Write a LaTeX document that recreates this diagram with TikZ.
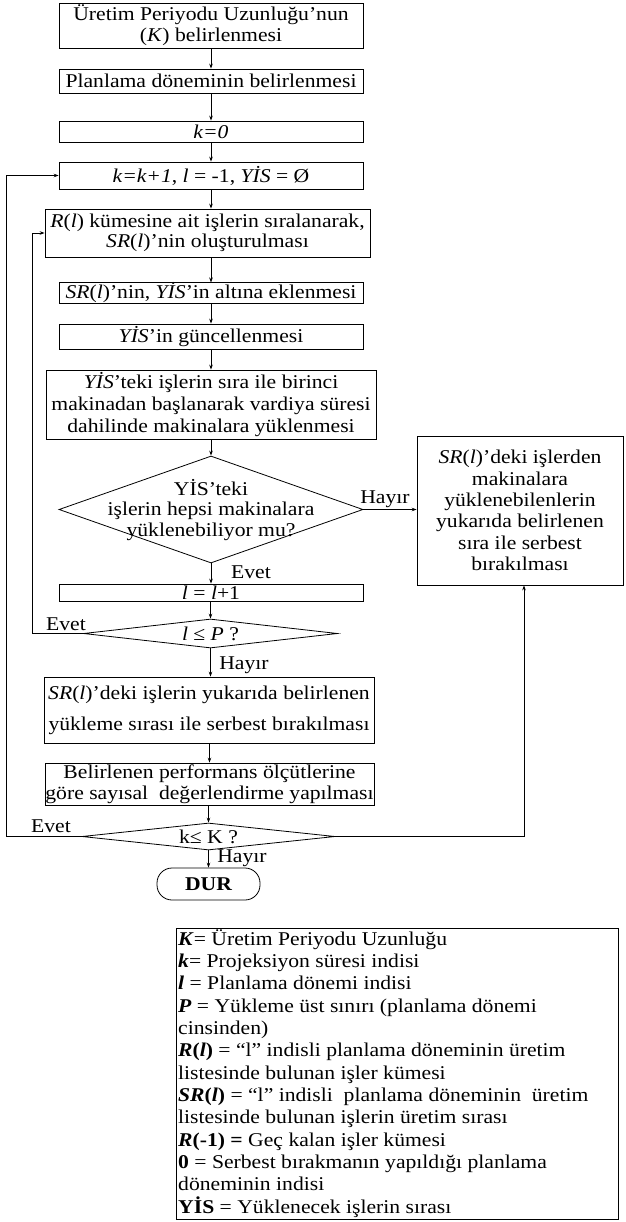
\documentclass[tikz,border=0pt]{standalone}
\usepackage{fontspec}
\setmainfont{Liberation Serif}[FakeStretch=1.11]
\usetikzlibrary{arrows.meta,shapes.geometric}
\newcommand{\fs}[1]{\fontsize{19.5}{#1}\selectfont}
\begin{document}
\begin{tikzpicture}[x=1pt,y=-1pt,
  every node/.style={font=\fs{21}},
  box/.style={draw, rectangle, line width=0.8pt, inner sep=0pt, align=center},
  dia/.style={draw, diamond, line width=0.8pt, inner sep=0pt},
  arr/.style={line width=0.8pt, -{Stealth[length=5pt,width=3.6pt]}},
  lbl/.style={inner sep=0pt, align=center},
  leg/.style={inner sep=0pt, anchor=base west}
]
\path[use as bounding box] (0,0) rectangle (625,1222);

% main column
\node[box, minimum width=304pt, minimum height=45pt] (b1) at (211,25.5) {Üretim Periyodu Uzunluğu’nun\\(\textit{K}) belirlenmesi};
\node[box, minimum width=304pt, minimum height=24pt] (b2) at (211,81) {Planlama döneminin belirlenmesi};
\node[box, minimum width=304pt, minimum height=21pt] (b3) at (211,131.5) {\textit{k=0}};
\node[box, minimum width=304pt, minimum height=27pt] (b4) at (211,175.5) {\textit{k=k+1}, \textit{l} = -1, \textit{YİS} = Ø};
\node[box, minimum width=325pt, minimum height=48pt, font=\fs{20}] (b5) at (207.5,233) {\textit{R}(\textit{l}) kümesine ait işlerin sıralanarak,\\\textit{SR}(\textit{l})’nin oluşturulması};
\node[box, minimum width=304pt, minimum height=20pt] (b6) at (211,293) {\textit{SR}(\textit{l})’nin, \textit{YİS}’in altına eklenmesi};
\node[box, minimum width=304pt, minimum height=25pt] (b7) at (211,336.5) {\textit{YİS}’in güncellenmesi};
\node[box, minimum width=330pt, minimum height=69pt, font=\fs{22}] (b8) at (211,404.5) {\textit{YİS}’teki işlerin sıra ile birinci\\makinadan başlanarak vardiya süresi\\dahilinde makinalara yüklenmesi};

\node[dia, minimum width=304pt, minimum height=107pt] (d1) at (211,509.5) {};
\node[lbl, font=\fs{20.5}] (d1t) at (211,510) {YİS’teki\\işlerin hepsi makinalara\\yüklenebiliyor mu?};

\node[box, minimum width=206pt, minimum height=149pt, font=\fs{21.3}] (rb) at (520,510.5) {\textit{SR}(\textit{l})’deki işlerden\\makinalara\\yüklenebilenlerin\\yukarıda belirlenen\\sıra ile serbest\\bırakılması};

\node[box, minimum width=304pt, minimum height=17pt] (b11) at (211,592.5) {\textit{l} = \textit{l}+1};

\node[dia, minimum width=254pt, minimum height=29pt] (d2) at (210.5,633.5) {};
\node[lbl] (d2t) at (210.5,634) {\textit{l} ≤ \textit{P} ?};

\node[box, minimum width=330pt, minimum height=66pt, font=\fs{31}] (b9) at (209,710) {\textit{SR}(\textit{l})’deki işlerin yukarıda belirlenen\\yükleme sırası ile serbest bırakılması};
\node[box, minimum width=329pt, minimum height=42pt, font=\fs{21.5}] (b10) at (209.5,784) {Belirlenen performans ölçütlerine\\göre sayısal\ \ değerlendirme yapılması};

\node[dia, minimum width=253pt, minimum height=27pt] (d3) at (208.5,836.5) {};
\node[lbl] (d3t) at (208.5,837) {k≤ K ?};

\node[draw, rounded corners=15pt, line width=0.8pt, inner sep=0pt, minimum width=103pt, minimum height=32pt, font=\fs{21}\bfseries] (dur) at (208.5,884) {DUR};

% labels
\node[lbl] (l1) at (385,499) {Hayır};
\node[lbl] (l2) at (251,572) {Evet};
\node[lbl] (l3) at (66,624) {Evet};
\node[lbl] (l4) at (244,665) {Hayır};
\node[lbl] (l5) at (51,826) {Evet};
\node[lbl] (l6) at (242,858) {Hayır};

% connectors
\draw[arr] (b1) -- (b2);
\draw[arr] (b2) -- (b3);
\draw[arr] (b3) -- (b4);
\draw[arr] (b4.south) -- (b4.south |- b5.north);
\draw[arr] (b6.north |- b5.south) -- (b6.north);
\draw[arr] (b6) -- (b7);
\draw[arr] (b7) -- (b8);
\draw[arr] (b8.south) -- (d1.north);
\draw[arr] (d1.south) -- (b11.north);
\draw[arr] (d2.north |- b11.south) -- (d2.north);
\draw[arr] (d2.south) -- (d2.south |- b9.north);
\draw[arr] (b10.north |- b9.south) -- (b10.north);
\draw[arr] (d3.north |- b10.south) -- (d3.north);
\draw[arr] (d3.south) -- (dur.north);
\draw[arr] (d1.east) -- (d1.east -| rb.west);

\coordinate (lloop) at (32,633.5);
\coordinate (oloop) at (6,836.5);
\coordinate (rloop) at (524,836.5);
\draw[arr] (d2.west) -- (lloop) |- (b5.west);
\draw[arr] (d3.west) -- (oloop) |- (b4.west);
\draw[arr] (d3.east) -- (rloop) -- (rloop |- rb.south);

% legend
\node[draw, line width=0.8pt, inner sep=0pt, minimum width=442pt, minimum height=291pt] (legbox) at (397,1073.5) {};
\node[leg] (g1) at (178,945) {\textbf{\textit{K}}= Üretim Periyodu Uzunluğu};
\node[leg] (g2) at (178,967.3) {\textbf{\textit{k}}= Projeksiyon süresi indisi};
\node[leg] (g3) at (178,989.7) {\textbf{\textit{l}} = Planlama dönemi indisi};
\node[leg] (g4) at (178,1012) {\textbf{\textit{P}} = Yükleme üst sınırı (planlama dönemi};
\node[leg] (g5) at (178,1034.3) {cinsinden)};
\node[leg] (g6) at (178,1056.7) {\textbf{\textit{R}(\textit{l})} = “l” indisli planlama döneminin üretim};
\node[leg] (g7) at (178,1079) {listesinde bulunan işler kümesi};
\node[leg] (g8) at (178,1101.3) {\textbf{\textit{SR}(\textit{l})} = “l” indisli\ \ planlama döneminin\ \ üretim};
\node[leg] (g9) at (178,1123.7) {listesinde bulunan işlerin üretim sırası};
\node[leg] (g10) at (178,1146) {\textbf{\textit{R}(-1) =} Geç kalan işler kümesi};
\node[leg] (g11) at (178,1168.3) {\textbf{0} = Serbest bırakmanın yapıldığı planlama};
\node[leg] (g12) at (178,1190.7) {döneminin indisi};
\node[leg] (g13) at (178,1213) {\textbf{YİS} = Yüklenecek işlerin sırası};
\end{tikzpicture}
\end{document}
